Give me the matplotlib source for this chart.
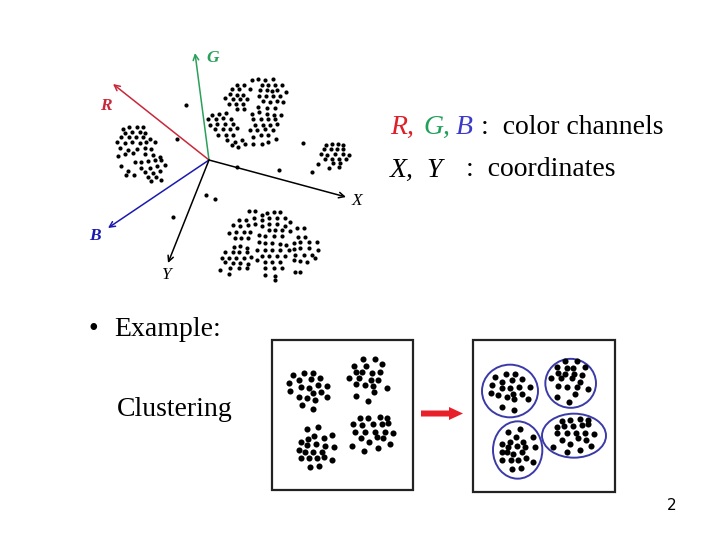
import numpy as np
import matplotlib
matplotlib.use('Agg')
import matplotlib.pyplot as plt
from matplotlib.patches import Ellipse, Rectangle

# ---------------------------------------------------------------
#   data: dot positions (3x zoom units + crop origin)
# ---------------------------------------------------------------
upper_org = (200, 72)
upper_pts = [(155,25),(175,22),(195,25),(218,20),(185,40),(205,38),(225,40),(245,40),
             (180,55),(200,55),(215,58),(232,55),(258,60),(178,72),(198,72),(220,72),
             (240,72),(190,88),(210,90),(230,88),(250,90),(175,105),(200,108),(225,108),
             (112,38),(132,38),(95,50),(118,50),(150,50),(90,65),(110,68),(130,68),
             (75,78),(100,82),(120,82),(140,80),(88,95),(108,95),(130,95),(110,112),(132,112),
             (35,128),(58,125),(78,122),(25,142),(48,140),(68,138),(92,140),(30,158),
             (52,155),(75,155),(98,155),(45,172),(68,172),(90,170),(112,168),(55,188),
             (78,188),(100,188),(80,205),(105,210),(125,205),(95,220),(115,225),(135,215),
             (155,125),(178,120),(200,125),(222,128),(242,128),(160,140),(182,140),(205,140),
             (225,142),(165,158),(188,158),(210,158),(232,155),(150,175),(172,175),(195,172),
             (218,175),(160,195),(182,190),(205,188),(228,200),(160,215),(185,215),(205,210)]

lower_org = (212, 205)
lower_pts = [(110,18),(128,18),
             (80,45),(102,45),(125,40),(62,60),(85,62),(108,60),(128,58),(50,85),(72,82),
             (95,80),(115,80),(68,100),(88,100),(108,98),
             (150,30),(165,25),(185,22),(205,22),(150,45),(172,40),(195,38),(218,40),
             (150,62),(172,58),(195,58),(218,62),(235,52),(140,90),(170,75),(190,75),
             (210,75),(235,78),(160,92),(185,92),(210,92),(255,70),(275,68),
             (258,95),(280,95),(245,115),(265,112),(290,112),(315,112),(245,132),(265,130),
             (290,130),(318,135),(250,150),(275,150),(300,150),(245,165),(265,168),(285,172),
             (310,160),(250,200),(265,200),
             (65,125),(85,122),(105,128),(40,140),(62,140),(82,140),(105,140),(30,158),
             (52,158),(72,158),(95,158),(118,155),(40,172),(62,175),(85,175),(108,178),
             (25,195),(55,190),(80,190),(105,188),(50,208),
             (140,110),(160,115),(180,115),(205,118),(222,120),(135,135),(158,135),(180,135),
             (205,135),(230,135),(150,152),(172,152),(195,152),(218,152),(135,165),(158,170),
             (180,170),(205,170),(160,188),(185,188),(210,190),(160,210),(188,212),(188,225)]

left_org = (108, 118)
left_pts = [(45,32),(62,28),(88,28),(105,28),(50,45),(72,42),(95,42),(112,45),(40,58),
            (62,58),(85,58),(105,58),(125,62),(28,72),(50,75),(72,72),(95,75),(115,72),
            (142,72),(35,90),(60,95),(88,92),(110,90),(130,92),(50,108),(75,105),(112,108),
            (135,110),(155,118),(30,115),(80,132),(100,132),(120,128),(140,125),(160,125),
            (40,145),(100,150),(125,150),(148,145),(170,142),(60,160),(110,162),(135,165),
            (155,160),(55,172),(78,170),(120,178),(145,178),(128,190),(160,185)]

right_org = (300, 130)
right_pts = [(78,45),(95,42),(115,42),(130,45),(72,58),(92,58),(110,58),(128,58),(62,72),
             (82,75),(105,72),(128,72),(148,75),(75,88),(95,88),(118,88),(138,88),(55,102),
             (98,100),(120,100),(88,115),(118,110)]

stray_org = (80, 40)
stray_pts = [(318,195),(290,298),(470,380),(598,390),(670,310),(378,465),(405,478),
             (278,530),(696,396)]

box_org = (265, 335)
box_left = [(85,120),(118,113),(145,113),(72,145),(103,135),(138,133),(165,130),(75,167),
            (108,155),(132,158),(158,150),(187,152),(102,185),(125,188),(145,175),(168,172),
            (187,187),(110,210),(150,195),(145,222),
            (295,73),(330,73),(268,93),(303,93),(352,88),(272,110),(290,110),(320,113),
            (345,110),(252,128),(282,130),(318,135),(340,135),(272,148),(300,150),(325,153),
            (367,158),(272,182),(328,170),(308,197),
            (125,283),(158,277),(148,303),(108,320),(130,313),(178,310),(200,300),(103,346),
            (125,330),(152,327),(180,333),(208,336),(120,350),(145,352),(170,352),(107,368),
            (133,370),(155,370),(178,365),(202,375),(135,397),(162,392),
            (285,250),(310,250),(345,247),(365,250),(265,268),(290,270),(325,268),(350,268),
            (368,265),(270,290),(300,292),(330,290),(360,290),(385,293),(287,308),(312,322),
            (335,305),(355,310),(260,333),(298,347),(340,340),(375,326)]
box_right = [(690,127),(722,118),(750,117),(680,150),(710,140),(742,135),(770,133),(678,173),
             (712,158),(735,158),(762,155),(795,155),(700,180),(725,185),(745,178),(770,178),
             (710,215),(748,193),(748,225),(790,192),
             (900,78),(935,77),(875,95),(905,98),(925,100),(960,95),(878,113),(900,118),
             (928,118),(950,120),(858,130),(888,130),(920,130),(945,140),(878,152),(905,155),
             (935,155),(970,163),(875,185),(930,177),(912,200),
             (730,290),(765,282),(752,305),(712,328),(735,320),(775,320),(805,305),(710,350),
             (730,335),(755,332),(780,337),(810,337),(725,350),(745,357),(770,352),(712,375),
             (737,375),(758,375),(782,370),(805,380),(740,402),(768,398),
             (890,258),(915,255),(945,253),(968,255),(875,275),(898,272),(925,272),(950,270),
             (970,268),(875,295),(905,295),(933,295),(960,295),(988,298),(890,315),(915,328),
             (938,310),(962,315),(865,335),(905,350),(945,345),(978,332)]

# cluster outlines (centre x, centre y, width, height) in 3x zoom units
rings = [(735,168,168,158), (917,145,152,147), (758,345,148,172), (927,302,192,132)]

# axis arrows: origin and tips
axis_origin = (209, 160)
axis_names = ['G', 'R', 'X', 'B', 'Y']
axis_tips = [(195,53), (113,84), (346,197), (108,228), (168,263)]
axis_label_pos = [(213,58), (106,106), (357,201), (95,236), (167,275)]
axis_colors = ['#2aa05a', '#c8283a', 'black', '#1a1ab0', 'black']


def to_px(org, pts):
    a = np.array(pts, dtype=float) / 3.0
    return a[:, 0] + org[0], a[:, 1] + org[1]


#===================================================
#                   plot
#===================================================
fig = plt.figure(figsize=(7.2, 5.4), dpi=100)
ax = fig.add_axes([0, 0, 1, 1])
ax.set_xlim(0, 720)
ax.set_ylim(540, 0)
ax.axis('off')

for org, pts in [(upper_org, upper_pts), (lower_org, lower_pts), (left_org, left_pts),
                 (right_org, right_pts), (stray_org, stray_pts)]:
    x, y = to_px(org, pts)
    ax.plot(x, y, 'o', color='black', ms=3.0, mew=0)

for name, tip, lp, c in zip(axis_names, axis_tips, axis_label_pos, axis_colors):
    ax.annotate('', xy=tip, xytext=axis_origin,
                arrowprops=dict(arrowstyle='->', color=c, lw=1.1, shrinkA=0, shrinkB=0,
                                mutation_scale=10))
    ax.text(lp[0], lp[1], name, color=c, fontsize=12.5, family='Liberation Serif',
            style='italic', weight='bold' if name in 'RGB' else 'normal',
            ha='center', va='center')

# legend text
serif = 'Liberation Serif'
fs = 20
ax.text(390, 127, 'R,', color='#dd1f26', fontsize=fs, family=serif, style='italic', va='center')
ax.text(423, 127, 'G,', color='#21a05a', fontsize=fs, family=serif, style='italic', va='center')
ax.text(456, 127, 'B', color='#3b3bc8', fontsize=fs, family=serif, style='italic', va='center')
ax.text(481, 127, ':  color channels', fontsize=fs, family=serif, va='center')
ax.text(390, 170, 'X,  Y', fontsize=fs, family=serif, style='italic', va='center')
ax.text(466, 170, ':  coordinates', fontsize=fs, family=serif, va='center')

ax.text(88, 330, '\u2022', fontsize=fs, family=serif, va='center')
ax.text(114, 330, 'Example:', fontsize=fs, family=serif, va='center')
ax.text(117, 410, 'Clustering', fontsize=fs, family=serif, va='center')
ax.text(672, 505, '2', fontsize=11, family='DejaVu Sans', ha='center', va='center')

# boxes
ax.add_patch(Rectangle((272, 340), 141, 150, fill=False, ec='#222222', lw=1.6))
ax.add_patch(Rectangle((473, 340), 142, 152, fill=False, ec='#222222', lw=1.6))

x, y = to_px(box_org, box_left)
ax.plot(x, y, 'o', color='black', ms=4.4, mew=0)
x, y = to_px(box_org, box_right)
ax.plot(x, y, 'o', color='black', ms=4.4, mew=0)

for cx, cy, w, h in rings:
    ax.add_patch(Ellipse((box_org[0] + cx / 3, box_org[1] + cy / 3), w / 3, h / 3,
                         fill=False, ec='#3a3aa8', lw=1.4))

ax.arrow(421, 413.5, 42, 0, width=6, head_width=13, head_length=14,
         length_includes_head=True, color='#e8202a', lw=0)

fig.savefig('out.png', dpi=100)
